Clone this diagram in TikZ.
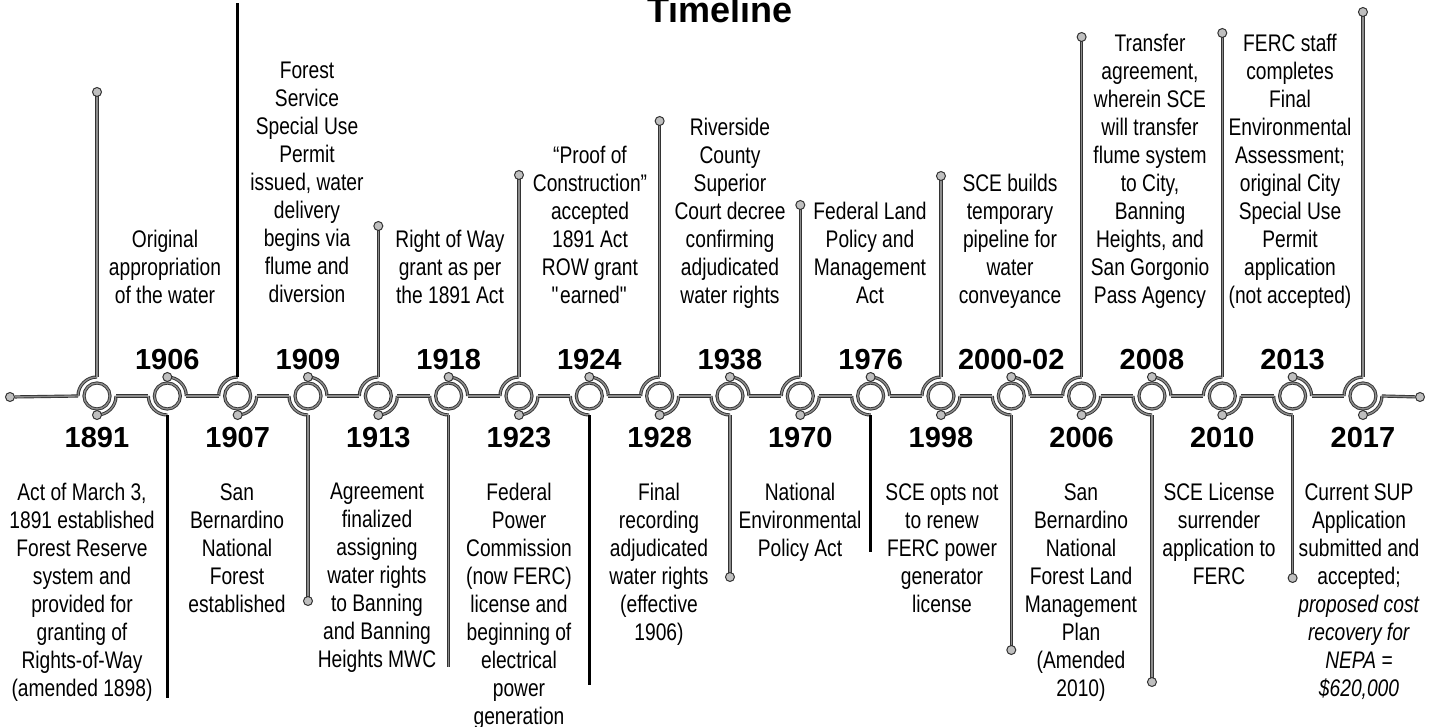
\documentclass[tikz,border=0pt]{standalone}
\usepackage{fontspec}
\setmainfont{Liberation Sans}[FakeStretch=0.8]
\newfontfamily\yearfont{Liberation Sans}

\begin{document}
\begin{tikzpicture}[x=0.5pt,y=0.5pt,
	grayline/.style={draw=black!80,double=black!45,double distance=0.7pt,line width=0.45pt},
	boldline/.style={draw=black,line width=1.4pt},
	ring/.style={circle,grayline,minimum size=13pt,inner sep=0pt},
	enddot/.style={circle,draw=black!80,fill=black!25,line width=0.5pt,minimum size=4.5pt,inner sep=0pt},
	year/.style={font=\yearfont\bfseries\fontsize{14.5}{16}\selectfont},
	note/.style={align=center,inner sep=0pt,anchor=north,font=\fontsize{12}{14}\selectfont}]
			%\draw [help lines] (0,0) grid (1440,-727);
			\useasboundingbox (0,0) rectangle (1440,-727);
			\clip (0,0) rectangle (1440,-727);
			\node[font=\yearfont\bfseries\fontsize{18}{20}\selectfont,anchor=base] (title) at (720,-23) {Timeline};
			% stations: index/year/side/end of line/kind (1 dot, 2 plain, 3 bold)
			\foreach \i/\yr/\s/\yend/\kind in {0/1891/1/92/1, 1/1906/-1/698/3, 2/1907/1/3/3, 3/1909/-1/601/1,
				4/1913/1/226/1, 5/1918/-1/667/2, 6/1923/1/175/1, 7/1924/-1/685/3, 8/1928/1/121/1,
				9/1938/-1/577/1, 10/1970/1/205/1, 11/1976/-1/552/3, 12/1998/1/176/1, 13/2000-02/-1/650/1,
				14/2006/1/37/1, 15/2008/-1/682/1, 16/2010/1/33/1, 17/2013/-1/578/1, 18/2017/1/12/1}
			{
				\pgfmathsetmacro\cx{97+70.33*\i}
				\node[ring] (c\i) at (\cx,-396) {};
				\coordinate (l\i) at ({\cx-19},-396);
				\coordinate (r\i) at ({\cx+19},-396);
				\coordinate (v\i) at (\cx,{-396+19*(\s)});
				\coordinate (e\i) at (\cx,-\yend);
				\draw[grayline] (l\i) arc[start angle=180,end angle={180-90*(\s)},radius=19];
				\draw[grayline] (r\i) arc[start angle=0,end angle={-90*(\s)},radius=19];
				\node[enddot] (a\i) at (\cx,{-396-19*(\s)}) {};
				\ifnum\kind=3 \draw[boldline] (v\i) -- (e\i); \else \draw[grayline] (v\i) -- (e\i); \fi
				\ifnum\kind=1 \node[enddot] (d\i) at (e\i) {}; \fi
				\node[year] (y\i) at (\cx,{-399-39*(\s)}) {\yr};
			}
			\foreach \i in {0,...,17} {
				\pgfmathtruncatemacro\j{\i+1}
				\draw[grayline] (r\i) -- (l\j);
			}
			\node[enddot] (start) at (10,-397) {};
			\node[enddot] (stop) at (1420,-397) {};
			\draw[grayline] (start) -- (l0);
			\draw[grayline] (r18) -- (stop);
			% texts above the line
			\node[note] (n1906) at (165,-230) {Original\\appropriation\\of the water};
			\node[note] (n1909) at (307,-62) {Forest\\Service\\Special Use\\Permit\\issued, water\\delivery\\begins via\\flume and\\diversion};
			\node[note] (n1918) at (450,-230) {Right of Way\\grant as per\\the 1891 Act};
			\node[note] (n1924) at (590,-146) {“Proof of\\Construction”\\accepted\\1891 Act\\ROW grant\\\textquotedbl earned\textquotedbl};
			\node[note] (n1938) at (730,-118) {Riverside\\County\\Superior\\Court decree\\confirming\\adjudicated\\water rights};
			\node[note] (n1976) at (870,-202) {Federal Land\\Policy and\\Management\\Act};
			\node[note] (n2000) at (1010,-174) {SCE builds\\temporary\\pipeline for\\water\\conveyance};
			\node[note] (n2008) at (1150,-34) {Transfer\\agreement,\\wherein SCE\\will transfer\\flume system\\to City,\\Banning\\Heights, and\\San Gorgonio\\Pass Agency};
			\node[note] (n2013) at (1290,-34) {FERC staff\\completes\\Final\\Environmental\\Assessment;\\original City\\Special Use\\Permit\\application\\(not accepted)};
			% texts below the line
			\node[note] (n1891) at (82,-483) {Act of March 3,\\1891 established\\Forest Reserve\\system and\\provided for\\granting of\\Rights-of-Way\\(amended 1898)};
			\node[note] (n1907) at (237,-483) {San\\Bernardino\\National\\Forest\\established};
			\node[note] (n1913) at (377,-483) {Agreement\\finalized\\assigning\\water rights\\to Banning\\and Banning\\Heights MWC};
			\node[note] (n1923) at (519,-483) {Federal\\Power\\Commission\\(now FERC)\\license and\\beginning of\\electrical\\power\\generation};
			\node[note] (n1928) at (659,-483) {Final\\recording\\adjudicated\\water rights\\(effective\\1906)};
			\node[note] (n1970) at (800,-483) {National\\Environmental\\Policy Act};
			\node[note] (n1998) at (942,-483) {SCE opts not\\to renew\\FERC power\\generator\\license};
			\node[note] (n2006) at (1081,-483) {San\\Bernardino\\National\\Forest Land\\Management\\Plan\\(Amended\\2010)};
			\node[note] (n2010) at (1219,-483) {SCE License\\surrender\\application to\\FERC};
			\node[note] (n2017) at (1359,-483) {Current SUP\\Application\\submitted and\\accepted;\\\textit{proposed cost}\\\textit{recovery for}\\\textit{NEPA =}\\\textit{\$620,000}};
		\end{tikzpicture}
\end{document}
